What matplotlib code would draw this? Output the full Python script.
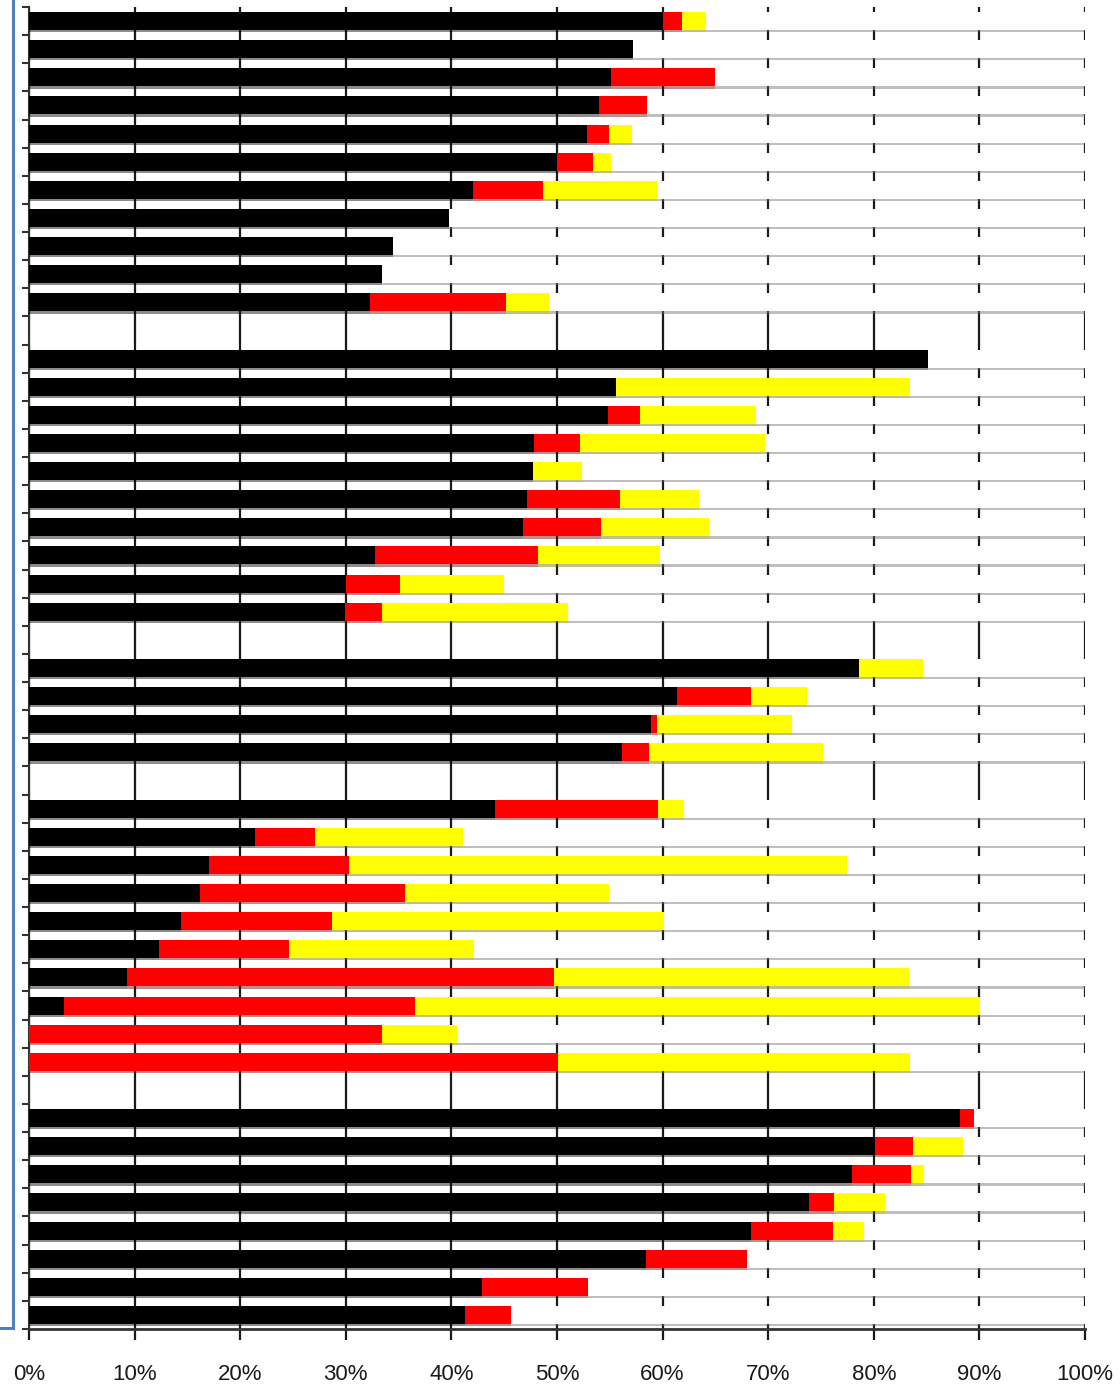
import numpy as np
import matplotlib
matplotlib.use("Agg")
import matplotlib.pyplot as plt
import matplotlib.patheffects as pe
from matplotlib.lines import Line2D
from matplotlib.ticker import PercentFormatter

# segment widths (percent) per row, top to bottom; nan = blank spacer row
black = [60.0, 57.2, 55.1, 54.0, 52.8, 50.0, 42.0, 39.8, 34.5, 33.4, 32.3, np.nan,
         85.1, 55.6, 54.8, 47.8, 47.7, 47.2, 46.8, 32.8, 30.0, 29.9, np.nan,
         78.6, 61.4, 58.9, 56.2, np.nan,
         44.1, 21.4, 17.0, 16.2, 14.4, 12.3, 9.3, 3.3, 0.0, 0.0, np.nan,
         88.2, 80.1, 77.9, 73.9, 68.4, 58.4, 42.9, 41.3]
red = [1.8, 0.0, 9.9, 4.5, 2.1, 3.4, 6.7, 0.0, 0.0, 0.0, 12.9, np.nan,
       0.0, 0.0, 3.1, 4.4, 0.0, 8.8, 7.4, 15.4, 5.1, 3.5, np.nan,
       0.0, 7.0, 0.6, 2.5, np.nan,
       15.5, 5.7, 13.3, 19.4, 14.3, 12.3, 40.4, 33.3, 33.4, 50.1, np.nan,
       1.3, 3.6, 5.6, 2.3, 7.7, 9.6, 10.0, 4.3]
yellow = [2.3, 0.0, 0.0, 0.0, 2.2, 1.7, 10.8, 0.0, 0.0, 0.0, 4.0, np.nan,
          0.0, 27.8, 10.9, 17.5, 4.7, 7.4, 10.2, 11.6, 9.9, 17.6, np.nan,
          6.1, 5.3, 12.8, 16.5, np.nan,
          2.4, 14.0, 47.2, 19.3, 31.4, 17.5, 33.6, 53.5, 7.1, 33.3, np.nan,
          0.0, 4.7, 1.3, 4.9, 3.0, 0.0, 0.0, 0.0]

black = np.array(black)
red = np.array(red)
yellow = np.array(yellow)
rest = 100 - (black + red + yellow)
rows = np.arange(len(black))

plt.rcParams['font.family'] = 'Liberation Sans'

fig = plt.figure(figsize=(11.2, 13.88), dpi=100)
ax = fig.add_axes([29 / 1120, 1 - 1329 / 1388, 1056 / 1120, 1322 / 1388])

shadow = [pe.SimplePatchShadow(offset=(0, -1.6), alpha=0.45, rho=0.45), pe.Normal()]
h = 0.64
left = np.zeros(len(rows))
for vals, col in [(black, 'black'), (red, '#ff0000'), (yellow, '#ffff00'), (rest, '#fefefe')]:
    bars = ax.barh(rows, np.nan_to_num(vals), left=left, height=h, color=col,
                   linewidth=0, zorder=3)
    for b in bars:
        b.set_path_effects(shadow)
    left = left + np.nan_to_num(vals)

ax.set_xlim(0, 100)
ax.set_ylim(len(rows) - 0.5, -0.5)
ax.set_xticks(np.arange(0, 101, 10))
ax.xaxis.set_major_formatter(PercentFormatter(100, decimals=0))
ax.set_yticks(np.arange(-0.5, len(rows), 1.0))
ax.set_yticklabels([])

ax.grid(axis='x', color='#1a1a1a', linewidth=1.6, zorder=0)
ax.set_axisbelow(True)
for s in ['top', 'right']:
    ax.spines[s].set_visible(False)
ax.spines['left'].set_color('#333333')
ax.spines['left'].set_linewidth(1.5)
ax.spines['bottom'].set_color('#333333')
ax.spines['bottom'].set_linewidth(2)
ax.tick_params(axis='x', length=8, width=1.6, color='#1a1a1a', pad=17,
               labelsize=16, labelcolor='#1a1a1a')
ax.tick_params(axis='y', length=5, width=1.5, color='#333333')

# blue bracket on the left edge
fig.add_artist(Line2D([13 / 1120, 13 / 1120], [1, 1 - 1328 / 1388],
                      transform=fig.transFigure, color='#4F81BD', lw=2.2))
fig.add_artist(Line2D([0, 13 / 1120], [1 - 1328 / 1388, 1 - 1328 / 1388],
                      transform=fig.transFigure, color='#4F81BD', lw=2.2))

fig.savefig("out.png", dpi=100)
